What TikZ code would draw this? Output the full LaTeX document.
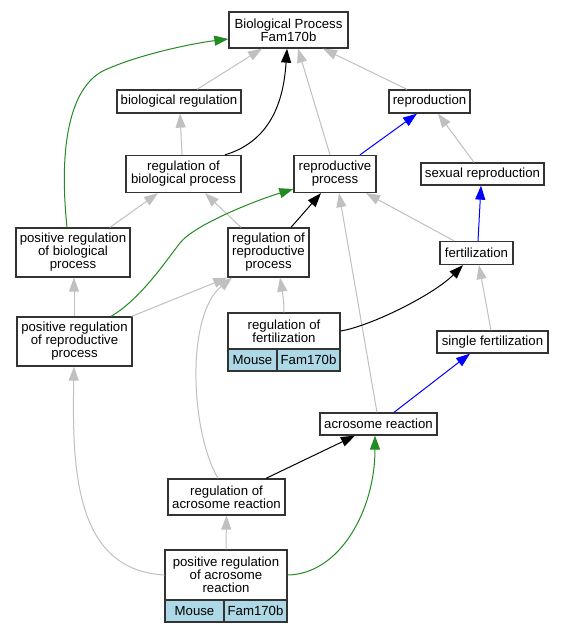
\documentclass[tikz,border=0pt]{standalone}
\usepackage{fontspec}
\setmainfont{Liberation Sans}
\usetikzlibrary{arrows.meta}
\definecolor{edgegray}{RGB}{192,192,192}
\definecolor{edgegreen}{RGB}{34,139,34}
\definecolor{edgeblue}{RGB}{0,0,255}
\definecolor{cellblue}{RGB}{173,216,230}
\definecolor{boxline}{RGB}{51,51,51}
\begin{document}
\begin{tikzpicture}[x=1pt,y=-1pt,
  box/.style={draw=boxline, line width=1.3pt, fill=white, inner sep=0pt, align=center,
    font=\fontsize{13.2}{13}\selectfont, anchor=center},
  cell/.style={box, fill=cellblue},
  edgebase/.style={line width=1pt, -{Triangle[length=14pt,width=10pt]}},
  isa/.style={edgebase, draw=edgegray},
  reg/.style={edgebase, draw=black},
  posreg/.style={edgebase, draw=edgegreen},
  partof/.style={edgebase, draw=edgeblue}]
\useasboundingbox[fill=white] (0,0) rectangle (563,632);

% nodes
\node[box, minimum width=119pt, minimum height=36pt] (bp) at (288.5,30) {Biological Process\\Fam170b};
\node[box, minimum width=124pt, minimum height=23pt] (breg) at (179,101.5) {biological regulation};
\node[box, minimum width=81pt, minimum height=23pt] (repro) at (429.5,101.5) {reproduction};
\node[box, minimum width=115pt, minimum height=37pt] (rbp) at (183.5,174) {regulation of\\biological process};
\node[box, minimum width=82pt, minimum height=37pt] (rp) at (335,174) {reproductive\\process};
\node[box, minimum width=123pt, minimum height=22pt] (sr) at (482.5,174) {sexual reproduction};
\node[box, minimum width=114pt, minimum height=49pt] (prbp) at (73,252.5) {positive regulation\\of biological\\process};
\node[box, minimum width=81pt, minimum height=49pt] (rrp) at (268.5,252.5) {regulation of\\reproductive\\process};
\node[box, minimum width=73pt, minimum height=23pt] (fert) at (476.5,253) {fertilization};
\node[box, minimum width=115pt, minimum height=49pt] (prrp) at (74.5,341.5) {positive regulation\\of reproductive\\process};
\node[box, minimum width=112pt, minimum height=36pt] (rf) at (284,331) {regulation of\\fertilization};
\node[cell, minimum width=49pt, minimum height=22pt] (rfm) at (252.5,360) {Mouse};
\node[cell, minimum width=63pt, minimum height=22pt] (rfg) at (308.5,360) {Fam170b};
\node[box, minimum width=111pt, minimum height=22pt] (sf) at (492.5,342) {single fertilization};
\node[box, minimum width=117pt, minimum height=22pt] (ar) at (378.5,424) {acrosome reaction};
\node[box, minimum width=117pt, minimum height=36pt] (rar) at (226.5,497) {regulation of\\acrosome reaction};
\node[box, minimum width=122pt, minimum height=50pt] (pra) at (226,575) {positive regulation\\of acrosome\\reaction};
\node[cell, minimum width=59pt, minimum height=22pt] (pram) at (194.5,611) {Mouse};
\node[cell, minimum width=63pt, minimum height=22pt] (prag) at (255.5,611) {Fam170b};

% edges
\draw[isa] ([xshift=18pt]breg.north) -- ([xshift=-26.5pt]bp.south);
\draw[reg] ([xshift=41.5pt]rbp.north) .. controls +(50,-15) and +(-3,45) .. ([xshift=-1.5pt]bp.south);
\draw[isa] ([xshift=-5pt]rp.north) -- ([xshift=9.5pt]bp.south);
\draw[isa] ([xshift=-22.5pt]repro.north) -- ([xshift=34.5pt]bp.south);
\draw[posreg] ([xshift=-6pt]prbp.north) .. controls (58,140) and (72,85) .. (105,70)
   .. controls (140,54) and (195,43) .. ([yshift=-9pt]bp.west);
\draw[isa] ([xshift=-1.5pt]rbp.north) -- ([xshift=1pt]breg.south);
\draw[partof] ([xshift=25pt]rp.north) -- ([xshift=-12.5pt]repro.south);
\draw[isa] ([xshift=-8.5pt]sr.north) -- ([xshift=8.5pt]repro.south);
\draw[partof] ([xshift=1.5pt]fert.north) -- ([xshift=-1.5pt]sr.south);
\draw[isa] ([xshift=37pt]prbp.north) -- ([xshift=-25.5pt]rbp.south);
\draw[isa] ([xshift=-27.5pt]rrp.north) -- ([xshift=21.5pt]rbp.south);
\draw[reg] ([xshift=22.5pt]rrp.north) -- ([xshift=-14pt]rp.south);
\draw[isa] ([xshift=-22.5pt]fert.north) -- ([xshift=31pt]rp.south);
\draw[isa] ([xshift=-1.5pt]ar.north) -- ([xshift=4pt]rp.south);
\draw[posreg] ([xshift=36.5pt]prrp.north) .. controls (141,299) and (168,258) .. (180,243)
   .. controls (194,225) and (254,201) .. ([yshift=-15pt]rp.west);
\draw[isa] ([xshift=-0.5pt]prrp.north) -- ([xshift=1pt]prbp.south);
\draw[isa] ([xshift=-1pt]prrp.north east) -- (rrp.south west);
\draw[isa] (rf.north) .. controls +(0,-12) and +(2,12) .. ([xshift=11.5pt]rrp.south);
\draw[reg] (rf.east) .. controls +(30,-5) and +(-30,30) .. ([xshift=-13.5pt]fert.south);
\draw[isa] ([xshift=-1.5pt]sf.north) -- ([xshift=2.5pt]fert.south);
\draw[partof] ([xshift=15.5pt]ar.north) -- ([xshift=-22.5pt]sf.south);
\draw[isa] ([xshift=-8.5pt]rar.north) .. controls (190,430) and (186,315) .. ([xshift=-36.5pt]rrp.south);
\draw[reg] ([xshift=39.5pt]rar.north) -- ([xshift=-23.5pt]ar.south);
\draw[isa] (pra.north) -- (rar.south);
\draw[isa] (pra.west) .. controls (75,570) and (72,470) .. ([xshift=-0.5pt]prrp.south);
\draw[posreg] (pra.east) .. controls (340,574) and (375,510) .. ([xshift=-3.5pt]ar.south);
\end{tikzpicture}
\end{document}
